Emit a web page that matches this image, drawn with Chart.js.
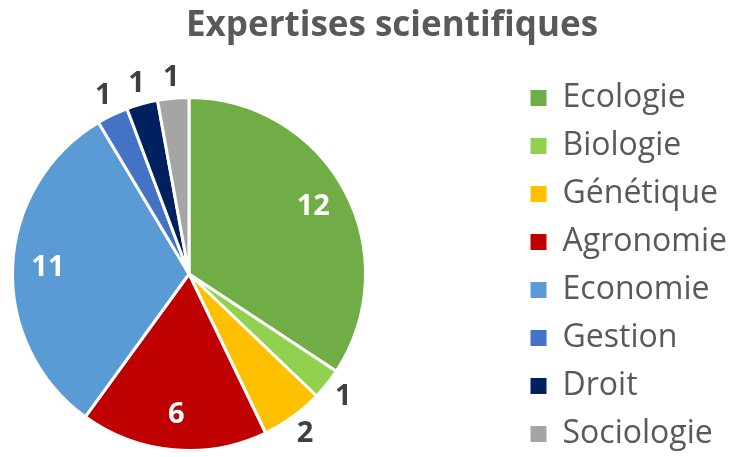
<!DOCTYPE html>
<html lang="fr">
<head>
<meta charset="utf-8">
<title>Expertises scientifiques</title>
<script src="https://cdn.jsdelivr.net/npm/chart.js@4.4.1/dist/chart.umd.min.js"></script>
<style>
  html, body { margin: 0; padding: 0; background: #ffffff; }
  #wrap { width: 733px; height: 457px; }
</style>
</head>
<body>
<div id="wrap"><canvas id="expertiseChart" width="733" height="457"></canvas></div>
<script>
// data
const labels = ['Ecologie', 'Biologie', 'Génétique', 'Agronomie', 'Economie', 'Gestion', 'Droit', 'Sociologie'];
const counts = [12, 1, 2, 6, 11, 1, 1, 1];
const sliceColors = ['#70AD47', '#92D050', '#FFC000', '#C00000', '#5B9BD5', '#4472C4', '#002060', '#A5A5A5'];

const FONT = "'Open Sans', 'DejaVu Sans', sans-serif";
const PAD = { left: 11, right: -4, top: 0, bottom: -9 };
const PIE_SIZE = 356;      // square area used by the pie
const TOP_GAP = 49;        // between title and pie
const BOTTOM_GAP = 14;
const TITLE_SHIFT = 18;    // title sits right of the canvas centre

// empty layout box, used to leave room around the pie
function makeSpacer(position, getSize) {
    return {
        position: position,
        weight: -10,
        fullSize: false,
        options: { display: false },
        left: 0, top: 0, right: 0, bottom: 0, width: 0, height: 0,
        isHorizontal() {
            return position === 'top' || position === 'bottom';
        },
        update(maxWidth, maxHeight) {
            if (this.isHorizontal()) {
                this.width = maxWidth;
                this.height = getSize();
            } else {
                this.width = getSize();
                this.height = maxHeight;
            }
        },
        draw() {}
    };
}

const pieFrame = {
    id: 'pieFrame',
    beforeInit(chart) {
        Chart.layouts.addBox(chart, makeSpacer('top', () => TOP_GAP));
        Chart.layouts.addBox(chart, makeSpacer('bottom', () => BOTTOM_GAP));
        Chart.layouts.addBox(chart, makeSpacer('right', () => {
            const legendWidth = chart.legend ? chart.legend.width : 0;
            const legendLeft = chart.width - PAD.right - legendWidth;
            return Math.max(0, legendLeft - PAD.left - PIE_SIZE);
        }));
    },
    afterLayout(chart) {
        if (chart.titleBlock) {
            chart.titleBlock.left += TITLE_SHIFT;
            chart.titleBlock.right += TITLE_SHIFT;
        }
    }
};

// value labels: inside for big slices, outside for the small ones
const sliceValueLabels = {
    id: 'sliceValueLabels',
    afterDatasetsDraw(chart) {
        const ctx = chart.ctx;
        const meta = chart.getDatasetMeta(0);
        const values = chart.data.datasets[0].data;
        ctx.save();
        ctx.font = 'bold 29px ' + FONT;
        ctx.textAlign = 'center';
        ctx.textBaseline = 'middle';
        meta.data.forEach((arc, i) => {
            const p = arc.getProps(['x', 'y', 'startAngle', 'endAngle', 'outerRadius'], true);
            const mid = (p.startAngle + p.endAngle) / 2;
            const inside = p.endAngle - p.startAngle > 0.6;
            const dist = inside ? p.outerRadius * 0.8 : p.outerRadius + 21;
            ctx.fillStyle = inside ? '#ffffff' : '#404040';
            ctx.fillText(String(values[i]), p.x + Math.cos(mid) * dist, p.y + Math.sin(mid) * dist);
        });
        ctx.restore();
    }
};

const ctx = document.getElementById('expertiseChart').getContext('2d');
new Chart(ctx, {
    type: 'pie',
    data: {
        labels: labels,
        datasets: [{
            data: counts,
            backgroundColor: sliceColors,
            borderColor: '#ffffff',
            borderWidth: 3,
            hoverOffset: 0
        }]
    },
    options: {
        responsive: false,
        animation: false,
        events: [],
        layout: { padding: PAD },
        plugins: {
            title: {
                display: true,
                text: 'Expertises scientifiques',
                color: '#595959',
                font: { family: FONT, size: 35, weight: 'bold', lineHeight: 1.2 },
                padding: { top: 5, bottom: 0 }
            },
            legend: {
                position: 'right',
                align: 'end',
                labels: {
                    boxWidth: 16,
                    boxHeight: 16,
                    padding: 16,
                    color: '#595959',
                    font: { family: FONT, size: 32 },
                    generateLabels: () => labels.map((text, i) => ({
                        text: text,
                        fillStyle: sliceColors[i],
                        strokeStyle: sliceColors[i],
                        lineWidth: 0,
                        fontColor: '#595959',
                        hidden: false,
                        index: i
                    }))
                }
            },
            tooltip: { enabled: false }
        }
    },
    plugins: [pieFrame, sliceValueLabels]
});
</script>
</body>
</html>
